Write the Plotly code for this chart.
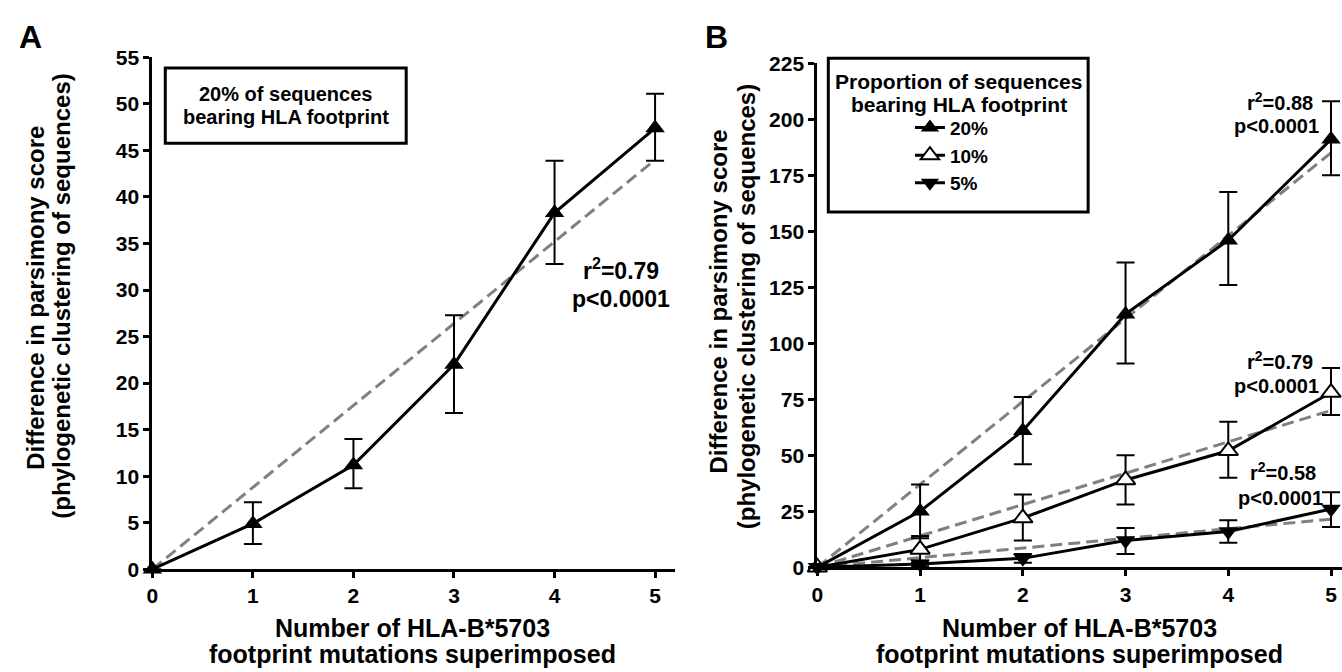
import plotly.graph_objects as go

W, H = 1342, 672

# ---------------- data ----------------
mutations = [0, 1, 2, 3, 4, 5]
fit_x = [0, 5]

# Panel A (20% of sequences)
a_mean = [0, 4.9, 11.2, 22.0, 38.3, 47.4]
a_upper = [0, 7.2, 14.0, 27.3, 43.9, 51.1]
a_lower = [0, 2.7, 8.7, 16.8, 32.8, 43.9]
a_fit = [0, 44.0]

# Panel B
b20_mean = [0, 25, 61, 113, 146, 191]
b20_upper = [0, 37, 76, 136, 167.5, 208]
b20_lower = [0, 13, 46, 91, 126, 175]
b20_fit = [0, 185]

b10_mean = [0, 8, 22, 39, 52, 78]
b10_upper = [0, 14, 32.5, 50, 65, 89]
b10_lower = [0, 2, 12, 28, 40, 68]
b10_fit = [0, 70]

b5_mean = [0, 1.5, 4, 12, 16, 26]
b5_upper = [0, 3, 6, 17.5, 21, 33.5]
b5_lower = [0, 0.5, 2, 6, 11, 18]
b5_fit = [0, 21.5]

a_ticks = [0, 5, 10, 15, 20, 25, 30, 35, 40, 45, 50, 55]
b_ticks = [0, 25, 50, 75, 100, 125, 150, 175, 200, 225]

# ---------------- styles ----------------
FA = "Liberation Sans, Arial, sans-serif"
GRAY = "#808080"
DASH = "12px,6px"


def px(x):
    return x / W


def py(y):
    return 1 - y / H


def err(mean, up, lo):
    return dict(type="data", symmetric=False,
                array=[u - m for u, m in zip(up, mean)],
                arrayminus=[m - l for m, l in zip(mean, lo)],
                color="black", thickness=2, width=9)


fig = go.Figure()

# Panel A
fig.add_trace(go.Scatter(x=fit_x, y=a_fit, mode="lines", xaxis="x", yaxis="y",
                         line=dict(color=GRAY, width=3, dash=DASH),
                         showlegend=False, hoverinfo="skip", cliponaxis=False))
fig.add_trace(go.Scatter(x=mutations, y=a_mean, mode="lines+markers", xaxis="x", yaxis="y",
                         line=dict(color="black", width=3),
                         marker=dict(symbol="triangle-up", size=17, color="black"),
                         error_y=err(a_mean, a_upper, a_lower),
                         showlegend=False, cliponaxis=False))

# Panel B fits
for fy in (b20_fit, b10_fit, b5_fit):
    fig.add_trace(go.Scatter(x=fit_x, y=fy, mode="lines", xaxis="x2", yaxis="y2",
                             line=dict(color=GRAY, width=3, dash=DASH),
                             showlegend=False, hoverinfo="skip", cliponaxis=False))

fig.add_trace(go.Scatter(x=mutations, y=b20_mean, mode="lines+markers", name="20%",
                         xaxis="x2", yaxis="y2",
                         line=dict(color="black", width=3),
                         marker=dict(symbol="triangle-up", size=17, color="black"),
                         error_y=err(b20_mean, b20_upper, b20_lower), cliponaxis=False))
fig.add_trace(go.Scatter(x=mutations, y=b10_mean, mode="lines+markers", name="10%",
                         xaxis="x2", yaxis="y2",
                         line=dict(color="black", width=3),
                         marker=dict(symbol="triangle-up", size=17, color="white",
                                     line=dict(color="black", width=2)),
                         error_y=err(b10_mean, b10_upper, b10_lower), cliponaxis=False))
fig.add_trace(go.Scatter(x=mutations, y=b5_mean, mode="lines+markers", name="5%",
                         xaxis="x2", yaxis="y2",
                         line=dict(color="black", width=3),
                         marker=dict(symbol="triangle-down", size=17, color="black"),
                         error_y=err(b5_mean, b5_upper, b5_lower), cliponaxis=False))

axis_common = dict(showline=True, linewidth=3, linecolor="black", ticks="outside",
                   ticklen=6, tickwidth=3, tickcolor="black", showgrid=False,
                   zeroline=False, fixedrange=True)
tickfont = dict(family=FA, size=21, color="black", weight="bold")

fig.update_layout(
    width=W, height=H,
    margin=dict(l=0, r=0, t=0, b=0),
    paper_bgcolor="white", plot_bgcolor="white",
    xaxis=dict(domain=[px(147), px(672)], range=[0, 5.198], anchor="y",
               tickvals=mutations, tickfont=tickfont, **axis_common),
    yaxis=dict(domain=[py(577), py(47)], range=[0, 55], anchor="x",
               tickvals=a_ticks, tickfont=tickfont, **axis_common),
    xaxis2=dict(domain=[px(815), 1.0], range=[0, 5.107], anchor="y2",
                tickvals=mutations, tickfont=tickfont, **axis_common),
    yaxis2=dict(domain=[py(575), py(53)], range=[0, 225], anchor="x2",
                tickvals=b_ticks, tickfont=tickfont, **axis_common),
    legend=dict(x=px(908), y=py(100), xanchor="left", yanchor="top",
                bgcolor="rgba(0,0,0,0)", borderwidth=0,
                font=dict(family=FA, size=19, color="black", weight="bold"),
                itemwidth=30, tracegroupgap=0),
    showlegend=True,
)

shapes = [
    dict(type="rect", xref="paper", yref="paper", x0=px(160), x1=px(402), y0=py(136), y1=py(58),
         line=dict(color="black", width=3), fillcolor="white", layer="below"),
    dict(type="rect", xref="paper", yref="paper", x0=px(826), x1=px(1087), y0=py(207), y1=py(48),
         line=dict(color="black", width=3), fillcolor="white", layer="below"),
]
fig.update_layout(shapes=shapes)


def ann(text, x, y, size, angle=0):
    return dict(text=text, x=px(x), y=py(y), xref="paper", yref="paper",
                xanchor="center", yanchor="middle", showarrow=False, textangle=angle,
                font=dict(family=FA, size=size, color="black", weight="bold"))


annotations = [
    ann("A", 25, 26, 32),
    ann("B", 714, 26, 32),
    ann("20% of sequences", 281, 85, 20),
    ann("bearing HLA footprint", 281, 109, 20),
    ann("Proportion of sequences", 957, 72, 21),
    ann("bearing HLA footprint", 957, 96, 21),
    ann("r<sup>2</sup>=0.79", 618, 266, 23),
    ann("p&lt;0.0001", 618, 297, 23),
    ann("r<sup>2</sup>=0.88", 1280, 93, 20),
    ann("p&lt;0.0001", 1276, 118, 20),
    ann("r<sup>2</sup>=0.79", 1280, 361, 20),
    ann("p&lt;0.0001", 1276, 387, 20),
    ann("r<sup>2</sup>=0.58", 1283, 476, 20),
    ann("p&lt;0.0001", 1280, 503, 20),
    ann("Number of HLA-B*5703", 408, 638, 25),
    ann("footprint mutations superimposed", 408, 665, 25),
    ann("Number of HLA-B*5703", 1078, 638, 25),
    ann("footprint mutations superimposed", 1078, 665, 25),
    ann("Difference in parsimony score", 30, 296, 24, angle=-90),
    ann("(phylogenetic clustering of sequences)", 56, 294, 24, angle=-90),
    ann("Difference in parsimony score", 716, 300, 24, angle=-90),
    ann("(phylogenetic clustering of sequences)", 744, 305, 24, angle=-90),
]
fig.update_layout(annotations=annotations)

fig.write_html("out.html")
